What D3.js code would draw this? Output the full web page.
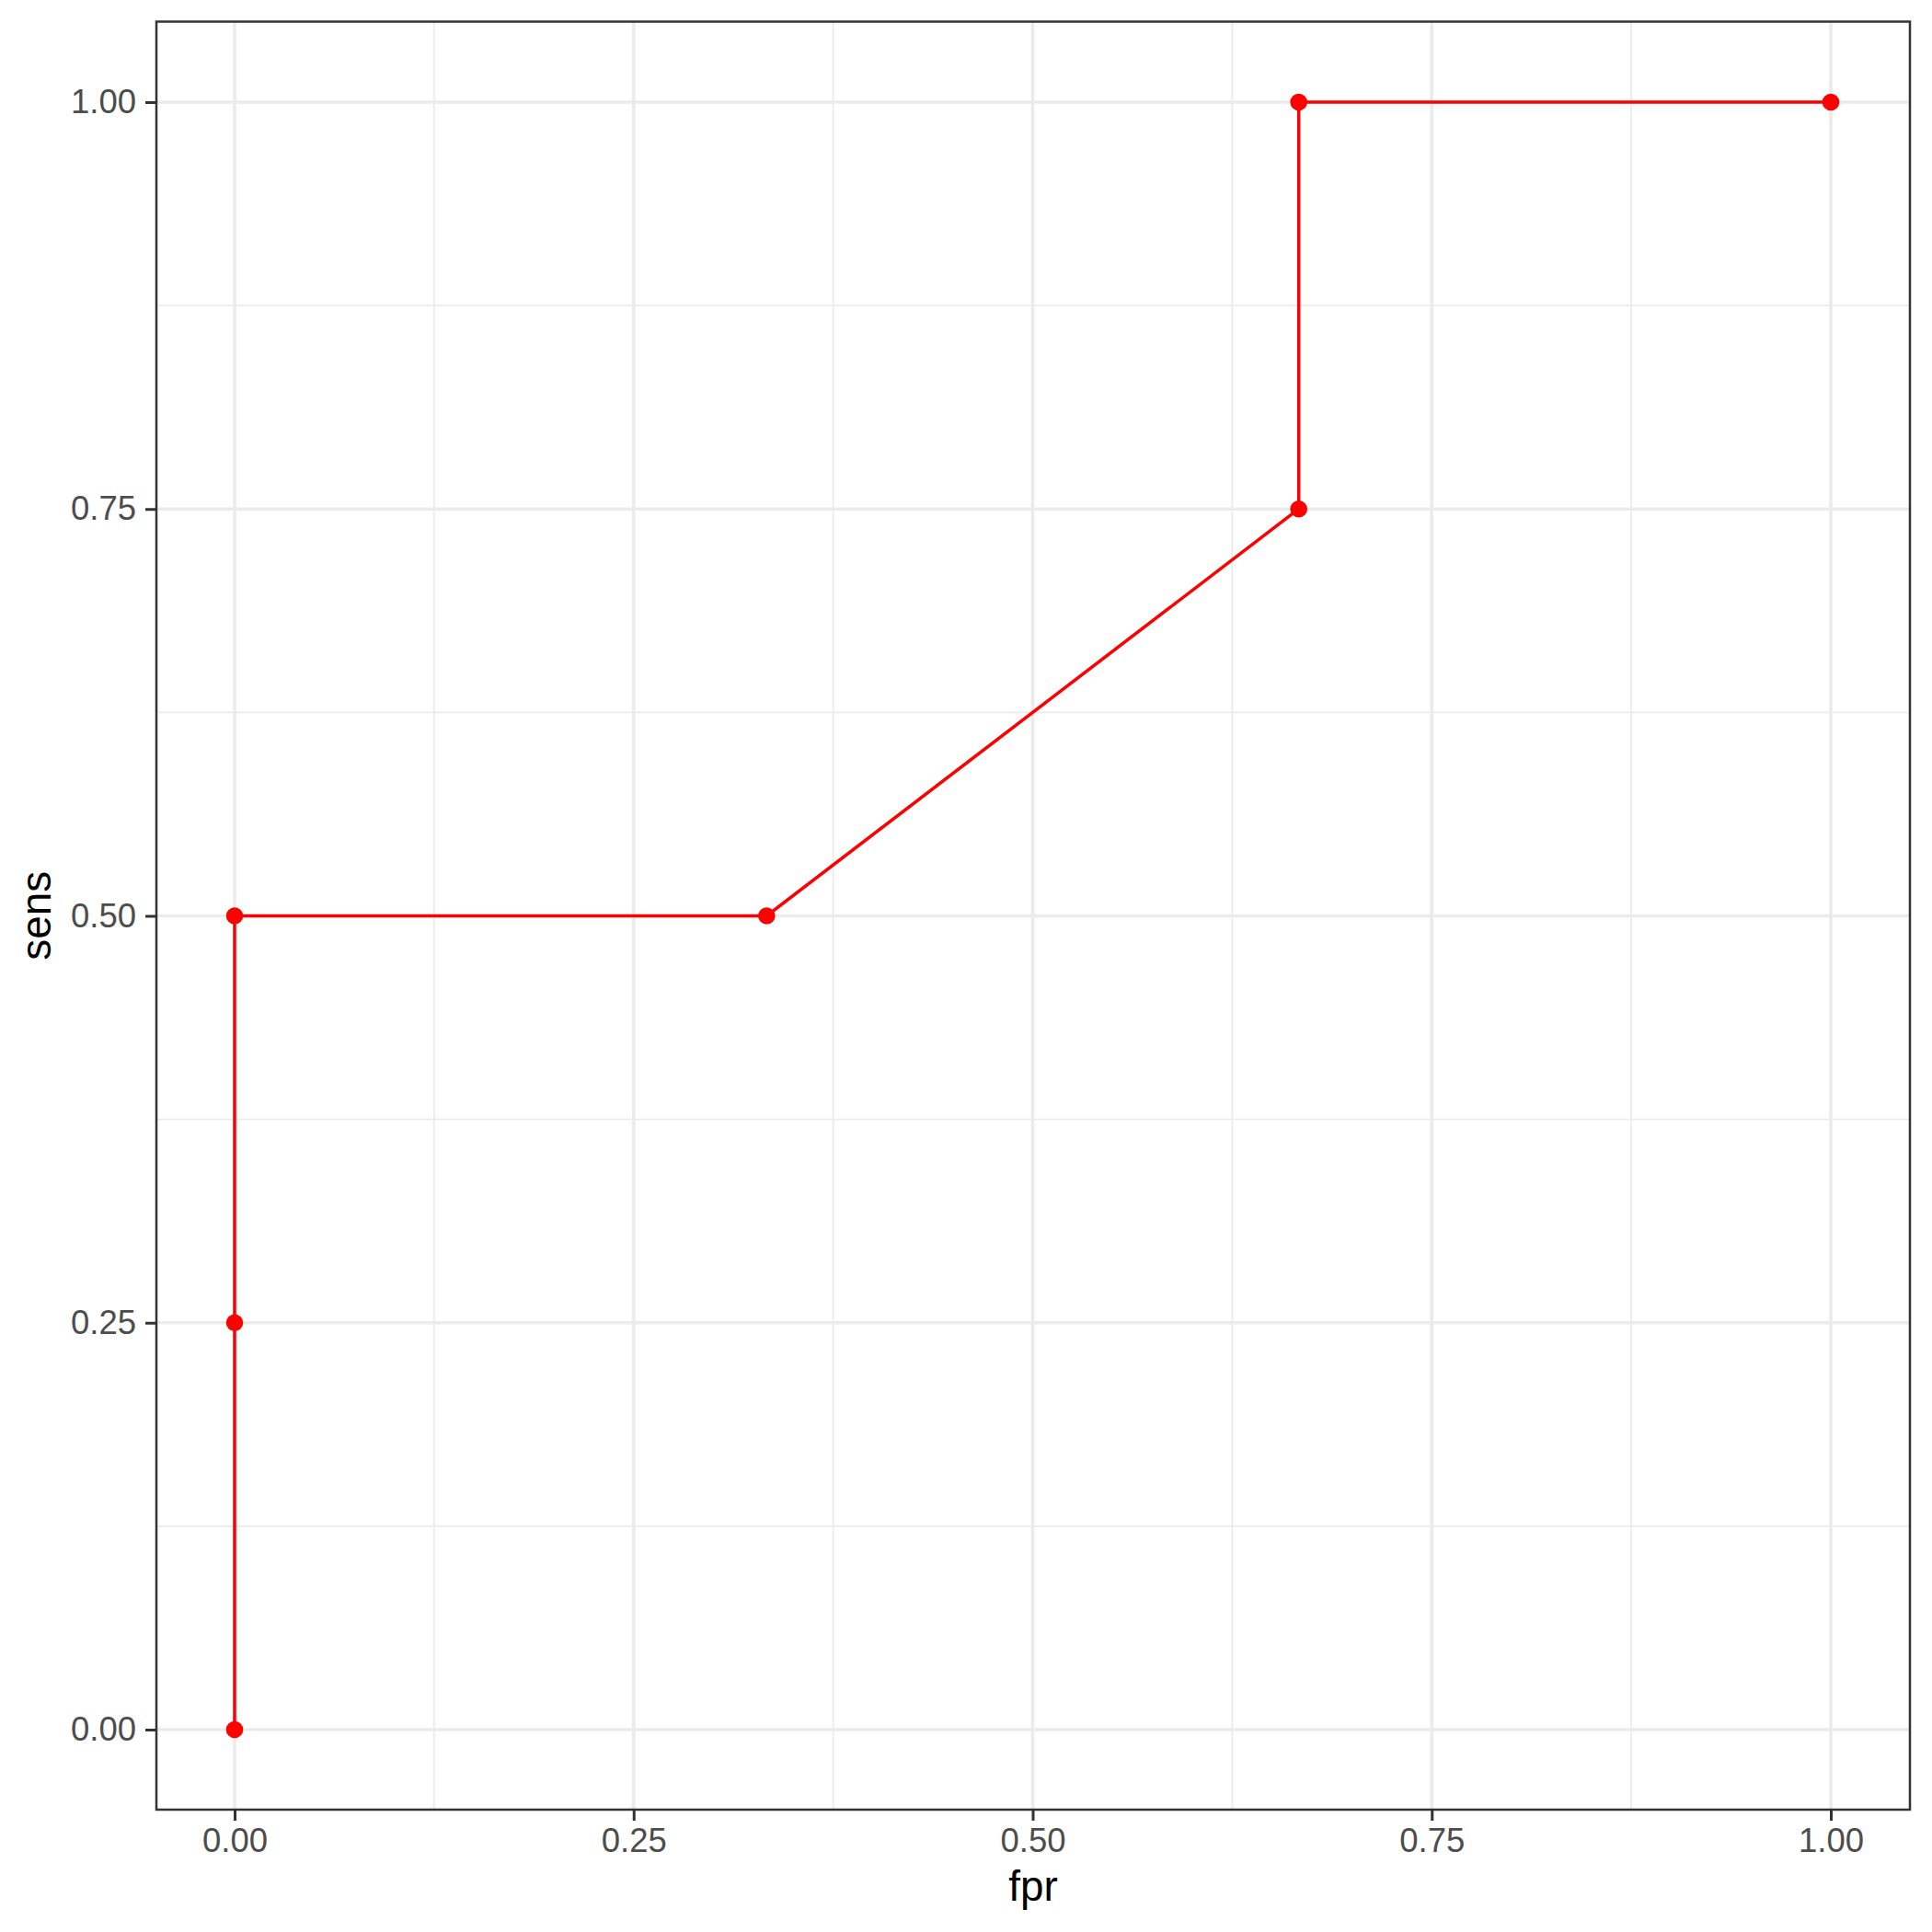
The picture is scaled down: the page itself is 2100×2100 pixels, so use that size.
<!DOCTYPE html>
<html>
<head>
<meta charset="UTF-8">
<title>ROC</title>
<script src="https://cdnjs.cloudflare.com/ajax/libs/d3/7.8.5/d3.min.js"></script>
<style>
  body { margin: 0; background: #fff; }
  text { font-family: "Liberation Sans", Arial, sans-serif; }
</style>
</head>
<body>
<div id="chart"></div>
<script>
  // ROC points
  const fpr  = [0, 0, 0, 1/3, 2/3, 2/3, 1];
  const sens = [0, 0.25, 0.5, 0.5, 0.75, 1, 1];
  const majorTicks = [0, 0.25, 0.5, 0.75, 1];
  const minorTicks = [0.125, 0.375, 0.625, 0.875];

  const W = 2100, H = 2100;
  const panel = {left: 170, top: 23.5, right: 2076, bottom: 1967};

  const svg = d3.select("#chart").append("svg")
    .attr("width", W).attr("height", H);

  const x = d3.scaleLinear().domain([0, 1]).range([255, 1990]);
  const y = d3.scaleLinear().domain([0, 1]).range([1880, 111]);

  svg.append("rect")
    .attr("x", panel.left).attr("y", panel.top)
    .attr("width", panel.right - panel.left).attr("height", panel.bottom - panel.top)
    .attr("fill", "#fff");

  const grid = svg.append("g");
  // minor grid
  grid.selectAll(".vminor").data(minorTicks).enter().append("line")
    .attr("x1", d => x(d)).attr("x2", d => x(d))
    .attr("y1", panel.top).attr("y2", panel.bottom)
    .attr("stroke", "#EBEBEB").attr("stroke-width", 1.8);
  grid.selectAll(".hminor").data(minorTicks).enter().append("line")
    .attr("y1", d => y(d)).attr("y2", d => y(d))
    .attr("x1", panel.left).attr("x2", panel.right)
    .attr("stroke", "#EBEBEB").attr("stroke-width", 1.8);
  // major grid
  grid.selectAll(".vmajor").data(majorTicks).enter().append("line")
    .attr("x1", d => x(d)).attr("x2", d => x(d))
    .attr("y1", panel.top).attr("y2", panel.bottom)
    .attr("stroke", "#EBEBEB").attr("stroke-width", 3.6);
  grid.selectAll(".hmajor").data(majorTicks).enter().append("line")
    .attr("y1", d => y(d)).attr("y2", d => y(d))
    .attr("x1", panel.left).attr("x2", panel.right)
    .attr("stroke", "#EBEBEB").attr("stroke-width", 3.6);

  // data line + points
  const pts = fpr.map((f, i) => [f, sens[i]]);
  svg.append("path")
    .datum(pts)
    .attr("d", d3.line().x(d => x(d[0])).y(d => y(d[1])))
    .attr("fill", "none").attr("stroke", "#FF0000").attr("stroke-width", 3.5);
  svg.selectAll(".pt").data(pts).enter().append("circle")
    .attr("cx", d => x(d[0])).attr("cy", d => y(d[1])).attr("r", 9.3)
    .attr("fill", "#FF0000");

  // panel border
  svg.append("rect")
    .attr("x", panel.left).attr("y", panel.top)
    .attr("width", panel.right - panel.left).attr("height", panel.bottom - panel.top)
    .attr("fill", "none").attr("stroke", "#333333").attr("stroke-width", 2.5);

  // axes
  const fmt = d3.format(".2f");
  const xAxis = svg.append("g")
    .attr("transform", `translate(0,${panel.bottom})`)
    .call(d3.axisBottom(x).tickValues(majorTicks).tickFormat(fmt).tickSize(12).tickPadding(8));
  const yAxis = svg.append("g")
    .attr("transform", `translate(${panel.left},0)`)
    .call(d3.axisLeft(y).tickValues(majorTicks).tickFormat(fmt).tickSize(12).tickPadding(10));
  [xAxis, yAxis].forEach(a => {
    a.select(".domain").remove();
    a.selectAll(".tick line").attr("stroke", "#333333").attr("stroke-width", 3);
    a.selectAll(".tick text").attr("fill", "#4D4D4D")
      .style("font-size", "36.5px").style("font-family", "'Liberation Sans', Arial, sans-serif");
  });

  // titles
  svg.append("text")
    .attr("x", (panel.left + panel.right) / 2).attr("y", 2066)
    .attr("text-anchor", "middle")
    .style("font-size", "45.8px").attr("fill", "#000")
    .text("fpr");
  svg.append("text")
    .attr("transform", `translate(55,${(panel.top + panel.bottom) / 2}) rotate(-90)`)
    .attr("text-anchor", "middle")
    .style("font-size", "45.8px").attr("fill", "#000")
    .text("sens");
</script>
</body>
</html>
